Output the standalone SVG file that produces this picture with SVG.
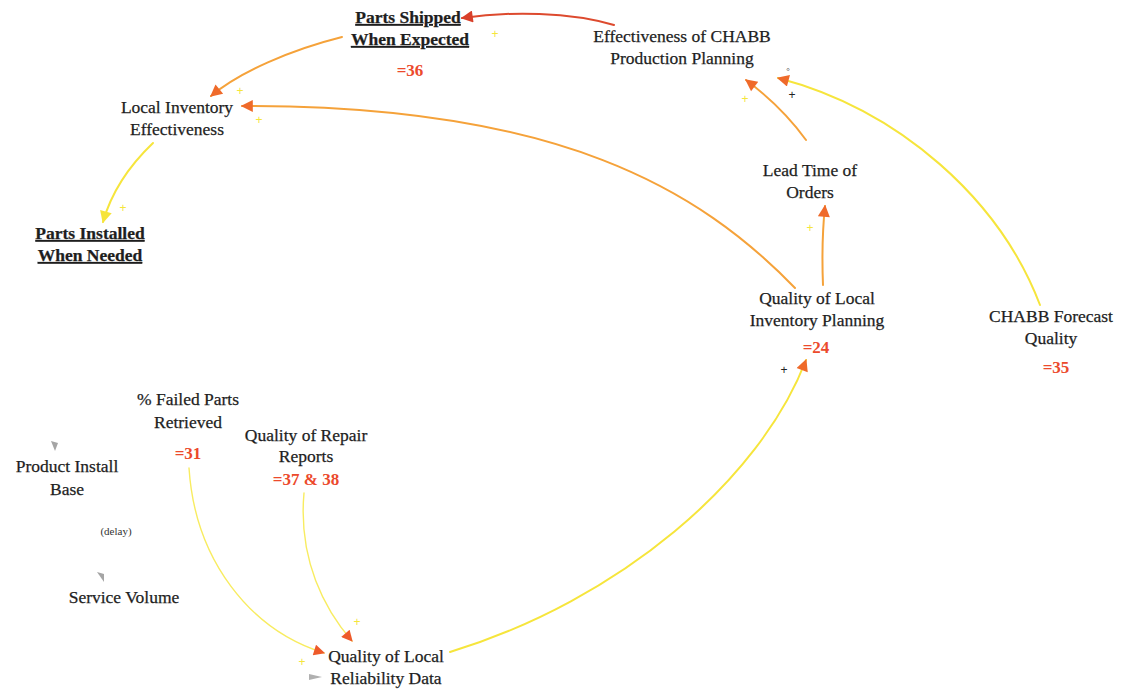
<svg xmlns="http://www.w3.org/2000/svg" width="1123" height="689" viewBox="0 0 1123 689">
  <style>
    .lbl { font-family: "Liberation Serif", "Times New Roman", serif; font-size: 17.5px; fill: #1e1e1e; stroke: #1e1e1e; stroke-width: 0.25; text-anchor: middle; }
    .key { font-weight: bold; text-decoration: underline; }
    .ref { font-family: "Liberation Serif", serif; font-size: 17px; font-weight: bold; fill: #ec4a2c; text-anchor: middle; }
    .small { font-family: "Liberation Serif", serif; font-size: 11px; fill: #333; text-anchor: middle; }
    .plus { font-family: "Liberation Sans", sans-serif; font-size: 12px; text-anchor: middle; }
    .py { fill: #f5e63a; }
    .pk { fill: #222; }
    .c { fill: none; stroke-width: 2; stroke-linecap: round; }
    .red { stroke: #dd4a2e; }
    .org { stroke: #f5a23a; }
    .yel { stroke: #f6e53c; }
    .lyel { stroke: #f8ec60; stroke-width: 1.4; }
  </style>
  <defs>
    <marker id="aRed" viewBox="0 0 10 10" refX="9" refY="5" markerWidth="7.5" markerHeight="6" orient="auto" markerUnits="strokeWidth">
      <path d="M0,0 L10,5 L0,10 Z" fill="#d8402a"/>
    </marker>
    <marker id="aOrg" viewBox="0 0 10 10" refX="9" refY="5" markerWidth="7.5" markerHeight="6" orient="auto" markerUnits="strokeWidth">
      <path d="M0,0 L10,5 L0,10 Z" fill="#ef6a2a"/>
    </marker>
    <marker id="aYel" viewBox="0 0 10 10" refX="9" refY="5" markerWidth="7.5" markerHeight="6" orient="auto" markerUnits="strokeWidth">
      <path d="M0,0 L10,5 L0,10 Z" fill="#f6e43a"/>
    </marker>
    <marker id="aLy" viewBox="0 0 10 10" refX="9" refY="5" markerWidth="10" markerHeight="8" orient="auto" markerUnits="strokeWidth">
      <path d="M0,0 L10,5 L0,10 Z" fill="#ee5a2a"/>
    </marker>
  </defs>

  <!-- links between variables -->
  <g id="connectors">
    <path class="c red" d="M614,25 C570,12 510,11 462,18" marker-end="url(#aRed)"/>
    <path class="c org" d="M342,37 C290,50 240,72 211,96" marker-end="url(#aOrg)"/>
    <path class="c org" d="M795,288 C700,190 560,105 242,106" marker-end="url(#aOrg)"/>
    <path class="c yel" d="M153,143 C130,165 112,190 103,222" marker-end="url(#aYel)"/>
    <path class="c org" d="M823,285 C822,260 822,235 825,206" marker-end="url(#aOrg)"/>
    <path class="c org" d="M806,140 C790,118 770,98 746,80" marker-end="url(#aOrg)"/>
    <path class="c yel" d="M1040,305 C1000,200 900,110 778,78" marker-end="url(#aOrg)"/>
    <path class="c yel" d="M450,652 C620,600 760,480 806,360" marker-end="url(#aOrg)"/>
    <path class="c lyel" d="M189,468 C195,560 250,630 324,653" marker-end="url(#aLy)"/>
    <path class="c lyel" d="M304,493 C298,560 325,610 352,641" marker-end="url(#aLy)"/>

    <!-- polarity marks -->
    <text class="plus py" x="495" y="38">+</text>
    <text class="plus py" x="240" y="95">+</text>
    <text class="plus py" x="259" y="124">+</text>
    <text class="plus py" x="123" y="212">+</text>
    <text class="plus py" x="810" y="232">+</text>
    <text class="plus py" x="745" y="103">+</text>
    <text class="plus pk" x="792" y="99">+</text>
    <text class="small" x="788" y="74" style="font-size:9px">°</text>
    <text class="plus pk" x="784" y="374">+</text>
    <text class="plus py" x="357" y="626">+</text>
    <text class="plus py" x="302" y="666">+</text>

    <!-- grey unlinked arrowheads -->
    <path d="M51,441 L58,443 L55,451 Z" fill="#a5a5a5"/>
    <path d="M97,572 L104,574 L104,582 Z" fill="#a5a5a5"/>
    <path d="M309,674 L322,677 L309,680 Z" fill="#b0b0b0"/>
  </g>

  <g id="parts-shipped">
    <text class="lbl key" x="408" y="23">Parts Shipped</text>
    <text class="lbl key" x="410" y="45">When Expected</text>
    <text class="ref" x="410" y="76">=36</text>
  </g>
  <g id="chabb-effectiveness">
    <text class="lbl" x="682" y="42">Effectiveness of CHABB</text>
    <text class="lbl" x="682" y="64">Production Planning</text>
  </g>
  <g id="local-inventory-effectiveness">
    <text class="lbl" x="177" y="113">Local Inventory</text>
    <text class="lbl" x="177" y="135">Effectiveness</text>
  </g>
  <g id="parts-installed">
    <text class="lbl key" x="90" y="239">Parts Installed</text>
    <text class="lbl key" x="90" y="261">When Needed</text>
  </g>
  <g id="lead-time">
    <text class="lbl" x="810" y="176">Lead Time of</text>
    <text class="lbl" x="810" y="198">Orders</text>
  </g>
  <g id="local-inventory-planning">
    <text class="lbl" x="817" y="304">Quality of Local</text>
    <text class="lbl" x="817" y="326">Inventory Planning</text>
    <text class="ref" x="816" y="353">=24</text>
  </g>
  <g id="chabb-forecast">
    <text class="lbl" x="1051" y="322">CHABB Forecast</text>
    <text class="lbl" x="1051" y="344">Quality</text>
    <text class="ref" x="1056" y="373">=35</text>
  </g>
  <g id="failed-parts">
    <text class="lbl" x="188" y="405">% Failed Parts</text>
    <text class="lbl" x="188" y="428">Retrieved</text>
    <text class="ref" x="188" y="459">=31</text>
  </g>
  <g id="repair-reports">
    <text class="lbl" x="306" y="441">Quality of Repair</text>
    <text class="lbl" x="306" y="462">Reports</text>
    <text class="ref" x="306" y="485">=37 &amp; 38</text>
  </g>
  <g id="install-base">
    <text class="lbl" x="67" y="472">Product Install</text>
    <text class="lbl" x="67" y="495">Base</text>
  </g>
  <g id="delay">
    <text class="small" x="116" y="535">(delay)</text>
  </g>
  <g id="service-volume">
    <text class="lbl" x="124" y="603">Service Volume</text>
  </g>
  <g id="reliability-data">
    <text class="lbl" x="386" y="662">Quality of Local</text>
    <text class="lbl" x="386" y="684">Reliability Data</text>
  </g>
</svg>
